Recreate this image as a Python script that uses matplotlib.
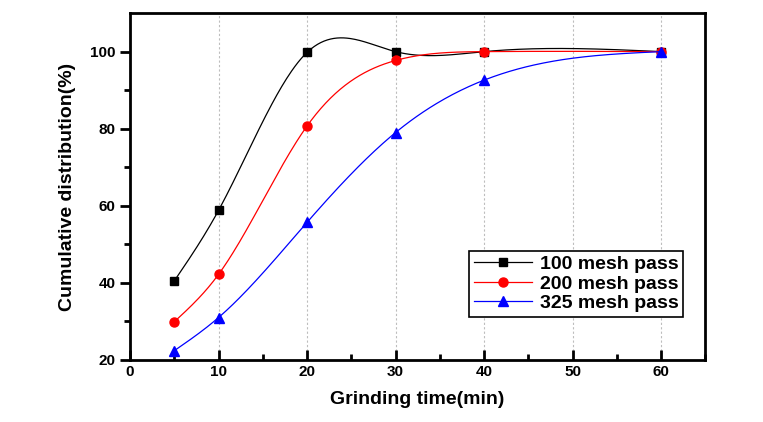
import numpy as np
import matplotlib.pyplot as plt

time = [5, 10, 20, 30, 40, 60]
mesh100 = [40.5, 58.8, 99.8, 100.0, 100.0, 100.0]
mesh200 = [29.9, 42.2, 80.7, 97.7, 100.0, 100.0]
mesh325 = [22.4, 31.0, 55.7, 79.0, 92.6, 100.0]
labels = ['100 mesh pass', '200 mesh pass', '325 mesh pass']


def natural_spline(x, y, n=300):
    # plain natural cubic spline, like Origin's "spline" connect
    x = np.asarray(x, float)
    y = np.asarray(y, float)
    k = len(x)
    h = np.diff(x)
    A = np.zeros((k, k))
    b = np.zeros(k)
    A[0, 0] = A[-1, -1] = 1
    for i in range(1, k - 1):
        A[i, i - 1] = h[i - 1]
        A[i, i] = 2 * (h[i - 1] + h[i])
        A[i, i + 1] = h[i]
        b[i] = 6 * ((y[i + 1] - y[i]) / h[i] - (y[i] - y[i - 1]) / h[i - 1])
    M = np.linalg.solve(A, b)
    xs = np.linspace(x[0], x[-1], n)
    idx = np.clip(np.searchsorted(x, xs) - 1, 0, k - 2)
    x0, x1 = x[idx], x[idx + 1]
    hh = x1 - x0
    t0, t1 = x1 - xs, xs - x0
    ys = (M[idx] * t0 ** 3 + M[idx + 1] * t1 ** 3) / (6 * hh) \
        + (y[idx] / hh - M[idx] * hh / 6) * t0 \
        + (y[idx + 1] / hh - M[idx + 1] * hh / 6) * t1
    return xs, ys


plt.rcParams['font.family'] = ['Liberation Sans', 'DejaVu Sans']
plt.rcParams['font.weight'] = 'bold'

fig = plt.figure(figsize=(7.63, 4.22), dpi=100)
ax = fig.add_axes([0.1704, 0.147, 0.754, 0.822])

styles = [('black', 's', 6), ('red', 'o', 6.5), ('blue', '^', 6.5)]
for vals, lab, (c, m, ms) in zip([mesh100, mesh200, mesh325], labels, styles):
    xs, ys = natural_spline(time, vals)
    ax.plot(xs, ys, color=c, lw=0.9)
    ax.plot(time, vals, ls='none', marker=m, color=c, ms=ms)
    ax.plot([], [], color=c, lw=0.9, marker=m, ms=ms, label=lab)

ax.set_xlim(0, 65)
ax.set_ylim(20, 110)
ax.set_xticks([0, 10, 20, 30, 40, 50, 60])
ax.set_xticks([5, 15, 25, 35, 45, 55, 65], minor=True)
ax.set_yticks([20, 40, 60, 80, 100])
ax.set_yticks([30, 50, 70, 90], minor=True)
for g in [10, 20, 30, 40, 50, 60]:
    ax.axvline(g, color='#bdbdbd', lw=0.8, ls=(0, (2, 2)), zorder=0)

ax.tick_params(axis='x', which='both', direction='in', width=2, labelsize=11)
ax.tick_params(axis='x', which='major', length=7)
ax.tick_params(axis='x', which='minor', length=4)
ax.tick_params(axis='y', which='both', direction='out', width=2, labelsize=11)
ax.tick_params(axis='y', which='major', length=7)
ax.tick_params(axis='y', which='minor', length=4)
for s in ax.spines.values():
    s.set_linewidth(2)

ax.set_xlabel('Grinding time(min)', fontsize=14, fontweight='bold', labelpad=9)
ax.set_ylabel('Cumulative distribution(%)', fontsize=14, fontweight='bold',
              labelpad=10)

leg = ax.legend(loc='lower right', bbox_to_anchor=(0.962, 0.124), fontsize=14,
                fancybox=False, framealpha=1, edgecolor='black',
                handlelength=3, borderpad=0.25, labelspacing=0.1,
                handletextpad=0.4, borderaxespad=0)
leg.get_frame().set_linewidth(1.2)

fig.savefig('out.png', dpi=100)
